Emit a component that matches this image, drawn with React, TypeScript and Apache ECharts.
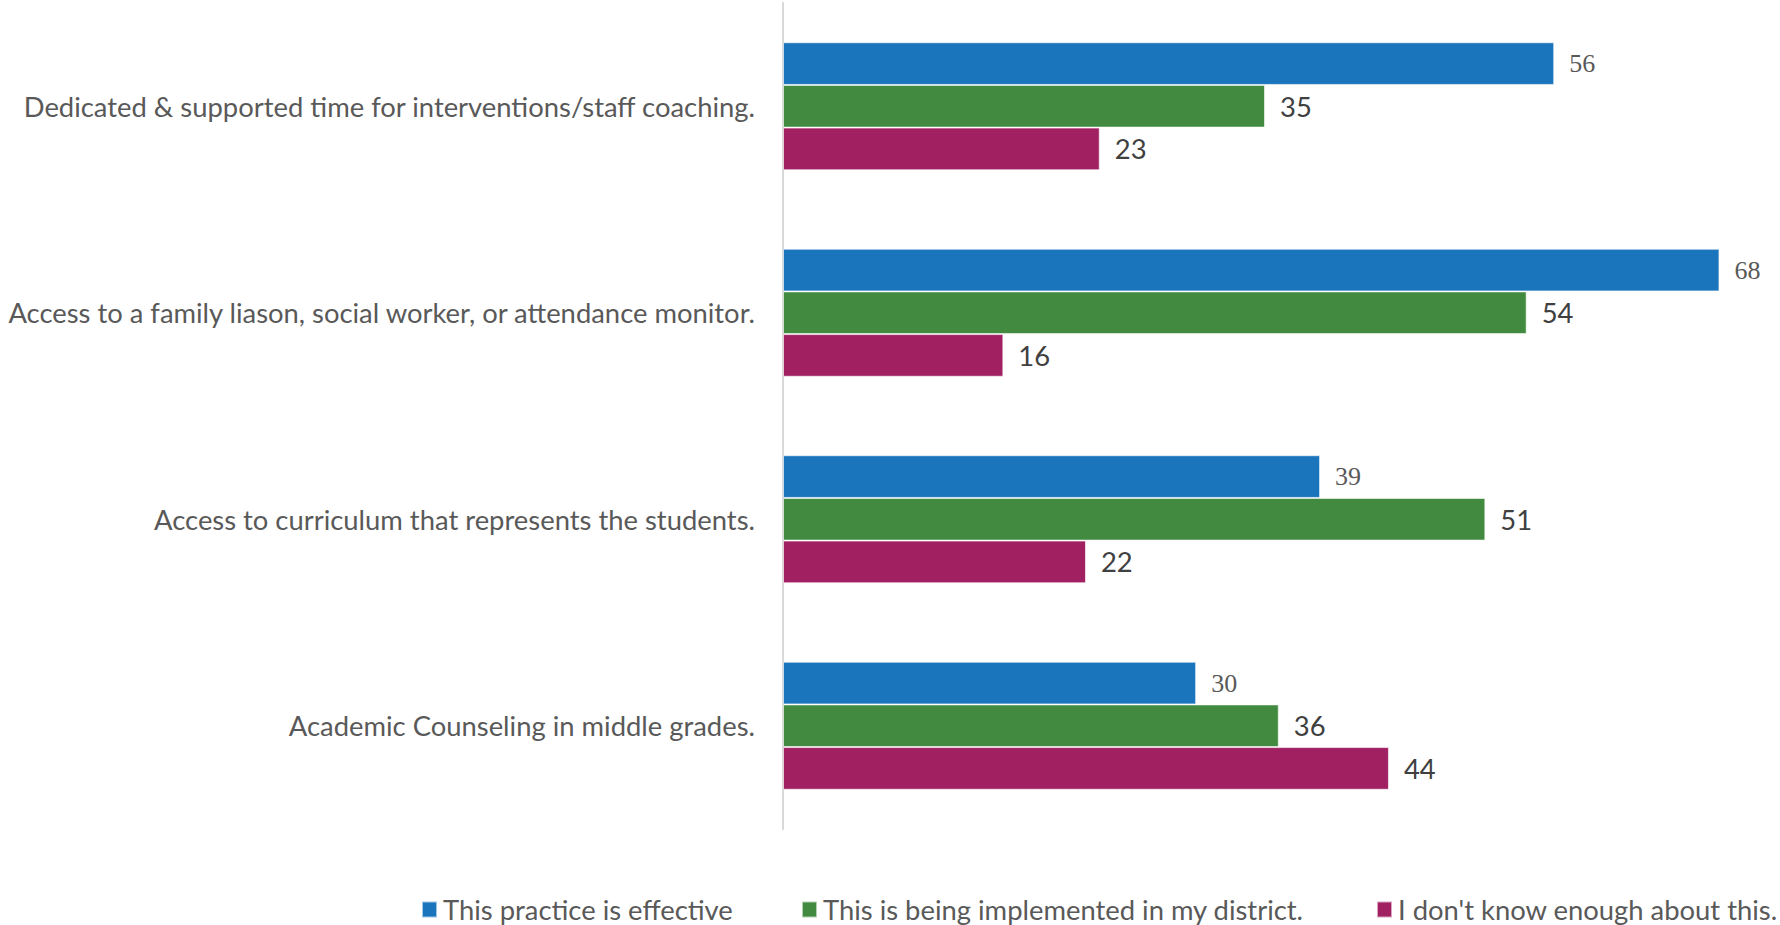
import React, { useEffect, useRef } from "react";
import * as echarts from "echarts";

const categories = [
  "Dedicated & supported time for interventions/staff coaching.",
  "Access to a family liason, social worker, or attendance monitor.",
  "Access to curriculum that represents the students.",
  "Academic Counseling in middle grades.",
];
const seriesNames = [
  "This practice is effective",
  "This is being implemented in my district.",
  "I don't know enough about this.",
];
const effective = [56, 68, 39, 30];
const implemented = [35, 54, 51, 36];
const dontKnow = [23, 16, 22, 44];

const colors = ["#1b75bc", "#418a3f", "#a12062"];
const SANS = "Lato, 'Open Sans', sans-serif";
const SERIF = "'Liberation Serif', 'DejaVu Serif', serif";

export default function App() {
  const ref = useRef<HTMLDivElement>(null);
  useEffect(() => {
    document.body.style.margin = "0";
    if (!ref.current) return;
    const chart = echarts.init(ref.current, null, { renderer: "svg" });
    const values = [effective, implemented, dontKnow];
    const legendLefts = [421, 801, 1376];
    chart.setOption({
      animation: false,
      backgroundColor: "#ffffff",
      grid: { left: 783, top: 3, width: 964, height: 826, containLabel: false },
      xAxis: {
        type: "value",
        min: 0,
        max: 70,
        show: false,
      },
      yAxis: {
        type: "category",
        inverse: true,
        data: categories,
        axisLine: { show: true, lineStyle: { color: "#d9d9d9", width: 2 } },
        axisTick: { show: false },
        axisLabel: {
          color: "#595959",
          fontFamily: SANS,
          fontSize: 27.4,
          margin: 28,
        },
      },
      legend: seriesNames.map((n, i) => ({
        data: [n],
        left: legendLefts[i],
        top: 896,
        icon: "rect",
        itemWidth: 15,
        itemHeight: 16,
        itemGap: 8,
        padding: 0,
        textStyle: { color: "#595959", fontFamily: SANS, fontSize: 27.4, padding: [0, 0, 0, 1] },
      })),
      series: seriesNames.map((n, i) => ({
        name: n,
        type: "bar",
        data: values[i],
        barGap: "0%",
        barCategoryGap: "38%",
        itemStyle: { color: colors[i], borderColor: "rgba(255,255,255,0.6)", borderWidth: 1 },
        label: {
          show: true,
          position: "right",
          distance: 15,
          color: i === 0 ? "#595959" : "#404040",
          fontFamily: i === 0 ? SERIF : SANS,
          fontSize: i === 0 ? 26 : 27.4,
        },
      })),
    });
    return () => chart.dispose();
  }, []);
  return <div ref={ref} style={{ width: 1780, height: 925 }} />;
}
